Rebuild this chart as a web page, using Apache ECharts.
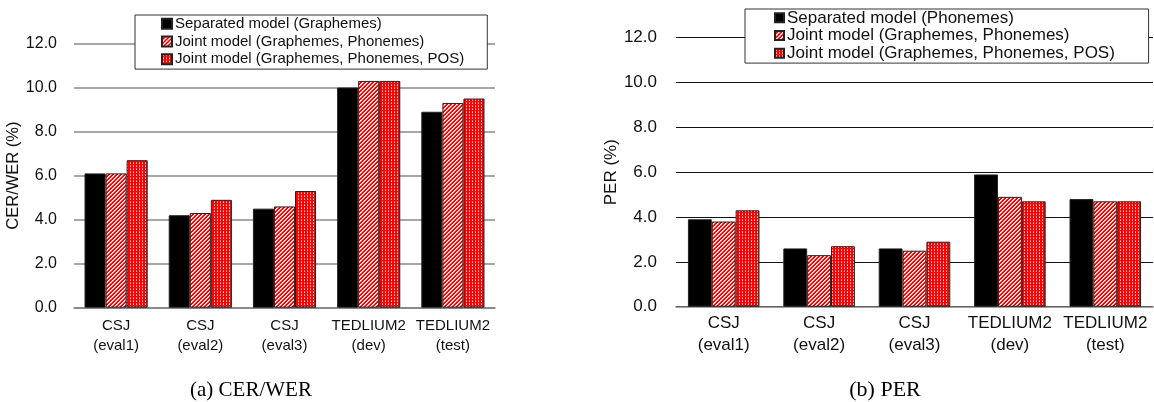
<!DOCTYPE html>
<html>
<head>
<meta charset="utf-8">
<script src="https://cdn.jsdelivr.net/npm/echarts@6/dist/echarts.min.js"></script>
<style>
html,body{margin:0;padding:0;background:#fff;}
#c{width:1154px;height:402px;}
</style>
</head>
<body>
<div id="c"></div>
<script>
// ---- data ----
const categories = ['CSJ\n(eval1)', 'CSJ\n(eval2)', 'CSJ\n(eval3)', 'TEDLIUM2\n(dev)', 'TEDLIUM2\n(test)'];
const yTicks = [0, 2, 4, 6, 8, 10, 12];

const namesLeft = ['Separated model (Graphemes)', 'Joint model (Graphemes, Phonemes)', 'Joint model (Graphemes, Phonemes, POS)'];
const namesRight = ['Separated model (Phonemes)', 'Joint model (Graphemes, Phonemes) ', 'Joint model (Graphemes, Phonemes, POS) '];

const cerSeparated = [6.1, 4.2, 4.5, 10.0, 8.9];
const cerJointGP = [6.1, 4.3, 4.6, 10.3, 9.3];
const cerJointGPP = [6.7, 4.9, 5.3, 10.3, 9.5];

const perSeparated = [3.9, 2.6, 2.6, 5.9, 4.8];
const perJointGP = [3.8, 2.3, 2.5, 4.9, 4.7];
const perJointGPP = [4.3, 2.7, 2.9, 4.7, 4.7];

// ---- patterns ----
function stripePattern() {
  const c = document.createElement('canvas');
  c.width = 4; c.height = 4;
  const g = c.getContext('2d');
  g.fillStyle = '#ff0000'; g.fillRect(0, 0, 4, 4);
  for (let x = 0; x < 4; x++) for (let y = 0; y < 4; y++) {
    const k = (x + y) % 4;
    if (k === 0) { g.fillStyle = '#ffffff'; g.fillRect(x, y, 1, 1); }
    else if (k === 1) { g.fillStyle = '#ffb4b4'; g.fillRect(x, y, 1, 1); }
  }
  return c;
}
function dotPattern() {
  const c = document.createElement('canvas');
  c.width = 3; c.height = 3;
  const g = c.getContext('2d');
  g.fillStyle = '#ff0000'; g.fillRect(0, 0, 3, 3);
  g.fillStyle = '#ffc8c8'; g.fillRect(1, 1, 1, 1);
  g.fillStyle = '#ff8080'; g.fillRect(1, 0, 1, 1);
  return c;
}
const stripeFill = { image: stripePattern(), repeat: 'repeat' };
const dotFill = { image: dotPattern(), repeat: 'repeat' };

const FONT = '"Liberation Sans", Arial, sans-serif';

function yAxis(gridIndex, name, nameGap, gridColor, gridWidth, fs, nfs, margin) {
  return {
    type: 'value', gridIndex: gridIndex, min: yTicks[0], max: yTicks[yTicks.length - 1], interval: 2,
    name: name, nameLocation: 'middle', nameGap: nameGap, nameRotate: 90,
    nameTextStyle: { fontFamily: FONT, fontSize: nfs, color: '#111' },
    axisLine: { show: false }, axisTick: { show: false },
    axisLabel: { fontFamily: FONT, fontSize: fs, color: '#111', margin: margin, formatter: v => v.toFixed(1) },
    splitLine: { show: true, lineStyle: { color: gridColor, width: gridWidth } }
  };
}
function xAxis(gridIndex, lineColor, fs, lh, margin) {
  return {
    type: 'category', gridIndex: gridIndex, data: categories,
    axisLine: { show: true, lineStyle: { color: lineColor, width: 1.5 } },
    axisTick: { show: false },
    axisLabel: { fontFamily: FONT, fontSize: fs, color: '#111', lineHeight: lh, margin: margin, interval: 0 }
  };
}
function bar(name, data, idx, color) {
  return {
    type: 'bar', name: name, data: data, xAxisIndex: idx, yAxisIndex: idx,
    barGap: '0%', barCategoryGap: '25%',
    itemStyle: { color: color, borderColor: '#222', borderWidth: 1 },
    emphasis: { disabled: true }, animation: false
  };
}
function legend(names, left, top, fs, padding, iw) {
  return {
    data: names, orient: 'vertical', left: left, top: top, icon: 'rect',
    itemWidth: iw, itemHeight: iw, itemGap: 0,
    padding: padding,
    borderColor: '#333', borderWidth: 1, backgroundColor: '#fff',
    textStyle: { fontFamily: FONT, fontSize: fs, color: '#111', lineHeight: 17.7, padding: [0, 0, 0, -2] },
    selectedMode: false
  };
}

const chart = echarts.init(document.getElementById('c'), null, { renderer: 'canvas' });
chart.setOption({
  animation: false,
  grid: [
    { left: 74, right: 659, top: 43.5, bottom: 94.3 },
    { left: 676, right: 1, top: 37.7, bottom: 95.3 }
  ],
  xAxis: [xAxis(0, '#808080', 15, 20, 8), xAxis(1, '#808080', 17, 22, 6)],
  yAxis: [yAxis(0, 'CER/WER (%)', 46, '#8a8a8a', 1.5, 16, 16.5, 17), yAxis(1, 'PER (%)', 56, '#111', 1.2, 17, 17, 19)],
  legend: [
    legend(namesLeft, 135, 15, 15, [0, 23, 1, 26], 10),
    legend(namesRight, 745, 9, 17, [0, 29, 1, 29], 9)
  ],
  series: [
    bar(namesLeft[0], cerSeparated, 0, '#000'),
    bar(namesLeft[1], cerJointGP, 0, stripeFill),
    bar(namesLeft[2], cerJointGPP, 0, dotFill),
    bar(namesRight[0], perSeparated, 1, '#000'),
    bar(namesRight[1], perJointGP, 1, stripeFill),
    bar(namesRight[2], perJointGPP, 1, dotFill)
  ],
  graphic: [
    { type: 'text', x: 251, y: 390, style: { text: '(a) CER/WER', font: '21px "Liberation Serif", "Times New Roman", serif', textAlign: 'center', textVerticalAlign: 'middle', fill: '#000' } },
    { type: 'text', x: 885, y: 390, style: { text: '(b) PER', font: '22px "Liberation Serif", "Times New Roman", serif', textAlign: 'center', textVerticalAlign: 'middle', fill: '#000' } }
  ]
});
</script>
</body>
</html>
